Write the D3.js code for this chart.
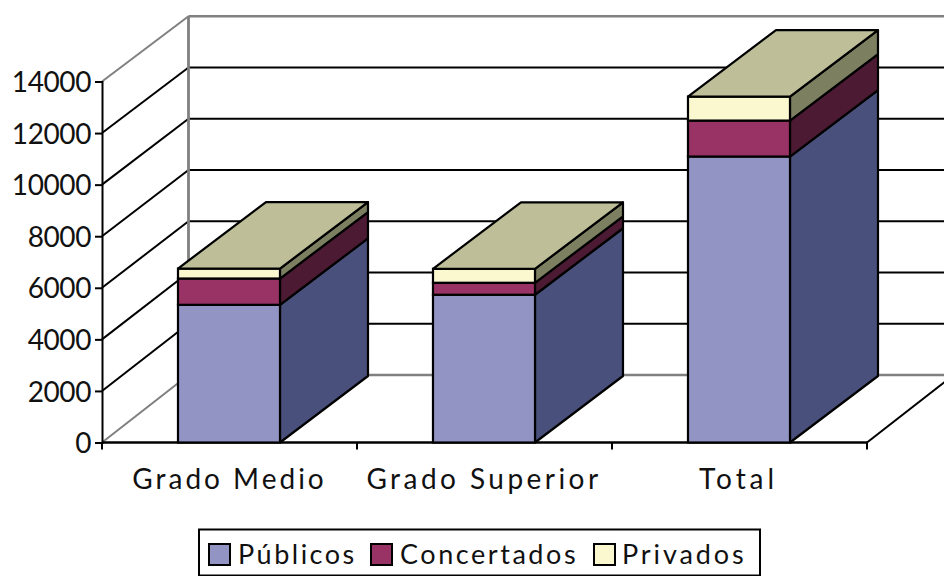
<!DOCTYPE html>
<html><head><meta charset="utf-8">
<script src="https://cdn.jsdelivr.net/npm/d3@7"></script>
<style>html,body{margin:0;padding:0;background:#fff;overflow:hidden}svg{display:block}text{font-family:"Lato";fill:#111}</style>
</head><body><svg id="c" width="944" height="576"></svg>
<script>
const categories=["Grado Medio","Grado Superior","Total"];
const seriesNames=["Públicos","Concertados","Privados"];
const publicos=[5340,5730,11090];
const concertados=[1020,465,1395];
const privados=[385,540,930];
const yTicks=[0,2000,4000,6000,8000,10000,12000,14000];
const frontColors=["#9295C3","#993366","#FBF7CF"];
const sideColors=["#4A507C","#4C1A33","#7D8060"];
const topColor="#BEBF98";
const series=[publicos,concertados,privados];

const svg=d3.select("#c");
const y=d3.scaleLinear().domain([0,14000]).range([442.5,81.5]);
const yBack=d3.scaleLinear().domain([0,14000]).range([375,16.2]);
const x=d3.scaleBand().domain(categories).range([102,867]).paddingInner(0).paddingOuter(0);
const barW=x.bandwidth()*0.4;
const wallDx=86.5,dx=88,dy=-66.5;
const line=(a,b,c,d,col,w)=>svg.append("line").attr("x1",a).attr("y1",b).attr("x2",c).attr("y2",d).attr("stroke",col).attr("stroke-width",w);
const grey="#808080";
// walls
yTicks.forEach(t=>{
  const edge=t===0||t===14000, col=edge?grey:"#000";
  line(102,y(t),102+wallDx,yBack(t),col,2);
  line(102+wallDx,yBack(t),944,yBack(t),col,edge?2.6:2);
});
line(102+wallDx,yBack(0),102+wallDx,yBack(14000),grey,2.8);
line(867,y(0),867+wallDx,yBack(0),"#000",2);
// axes
const yAxis=d3.axisLeft(y).tickValues(yTicks).tickSize(7).tickPadding(4).tickFormat(d3.format("d"));
const gy=svg.append("g").attr("transform","translate(102,0)").call(yAxis);
gy.select(".domain").attr("stroke","#000").attr("stroke-width",2);
gy.selectAll(".tick line").attr("stroke","#000").attr("stroke-width",2);
gy.selectAll("text").attr("font-size",28).attr("font-family","Lato").attr("fill","#111").attr("letter-spacing","-0.4").attr("dy","0.36em");
line(102,y(0),867,y(0),"#000",2.4);
const tickX=[...categories.map(c=>x(c)),867];
tickX.forEach(v=>line(v,y(0),v,y(0)+7,"#000",2));
const spacing=[3.0,3.45,3.9], labelX=[229.5,484,738.5];
categories.forEach((c,i)=>{
  svg.append("text").attr("x",labelX[i]).attr("y",489).attr("text-anchor","middle").attr("font-size",28).attr("letter-spacing",spacing[i]).text(c);
});
// bars
categories.forEach((c,i)=>{
  const x0=x(c)+x.bandwidth()*0.298, x1=x0+barW;
  let base=0;
  series.forEach((s,k)=>{
    const top=base+s[i];
    const y0=y(base),y1=y(top);
    svg.append("path").attr("d",d3.line()([[x1,y0],[x1+dx,y0+dy],[x1+dx,y1+dy],[x1,y1]])+"Z").attr("fill",sideColors[k]).attr("stroke","#000").attr("stroke-width",2.2).attr("stroke-linejoin","round");
    svg.append("rect").attr("x",x0).attr("y",y1).attr("width",barW).attr("height",y0-y1).attr("fill",frontColors[k]).attr("stroke","#000").attr("stroke-width",2.2);
    base=top;
  });
  const yt=y(base);
  svg.append("path").attr("d",d3.line()([[x0,yt],[x0+dx,yt+dy],[x1+dx,yt+dy],[x1,yt]])+"Z").attr("fill",topColor).attr("stroke","#000").attr("stroke-width",2.2).attr("stroke-linejoin","round");
});
// legend
svg.append("rect").attr("x",199).attr("y",529.5).attr("width",561).attr("height",46).attr("fill","#fff").attr("stroke","#000").attr("stroke-width",2);
const sw=[209,371,594], tx=[238,400,622], ls=[2.5,2.55,2.9];
seriesNames.forEach((n,i)=>{
  svg.append("rect").attr("x",sw[i]).attr("y",544).attr("width",21).attr("height",21).attr("fill",frontColors[i]).attr("stroke","#000").attr("stroke-width",2);
  svg.append("text").attr("x",tx[i]).attr("y",564).attr("font-size",27).attr("letter-spacing",ls[i]).text(n);
});
</script></body></html>
